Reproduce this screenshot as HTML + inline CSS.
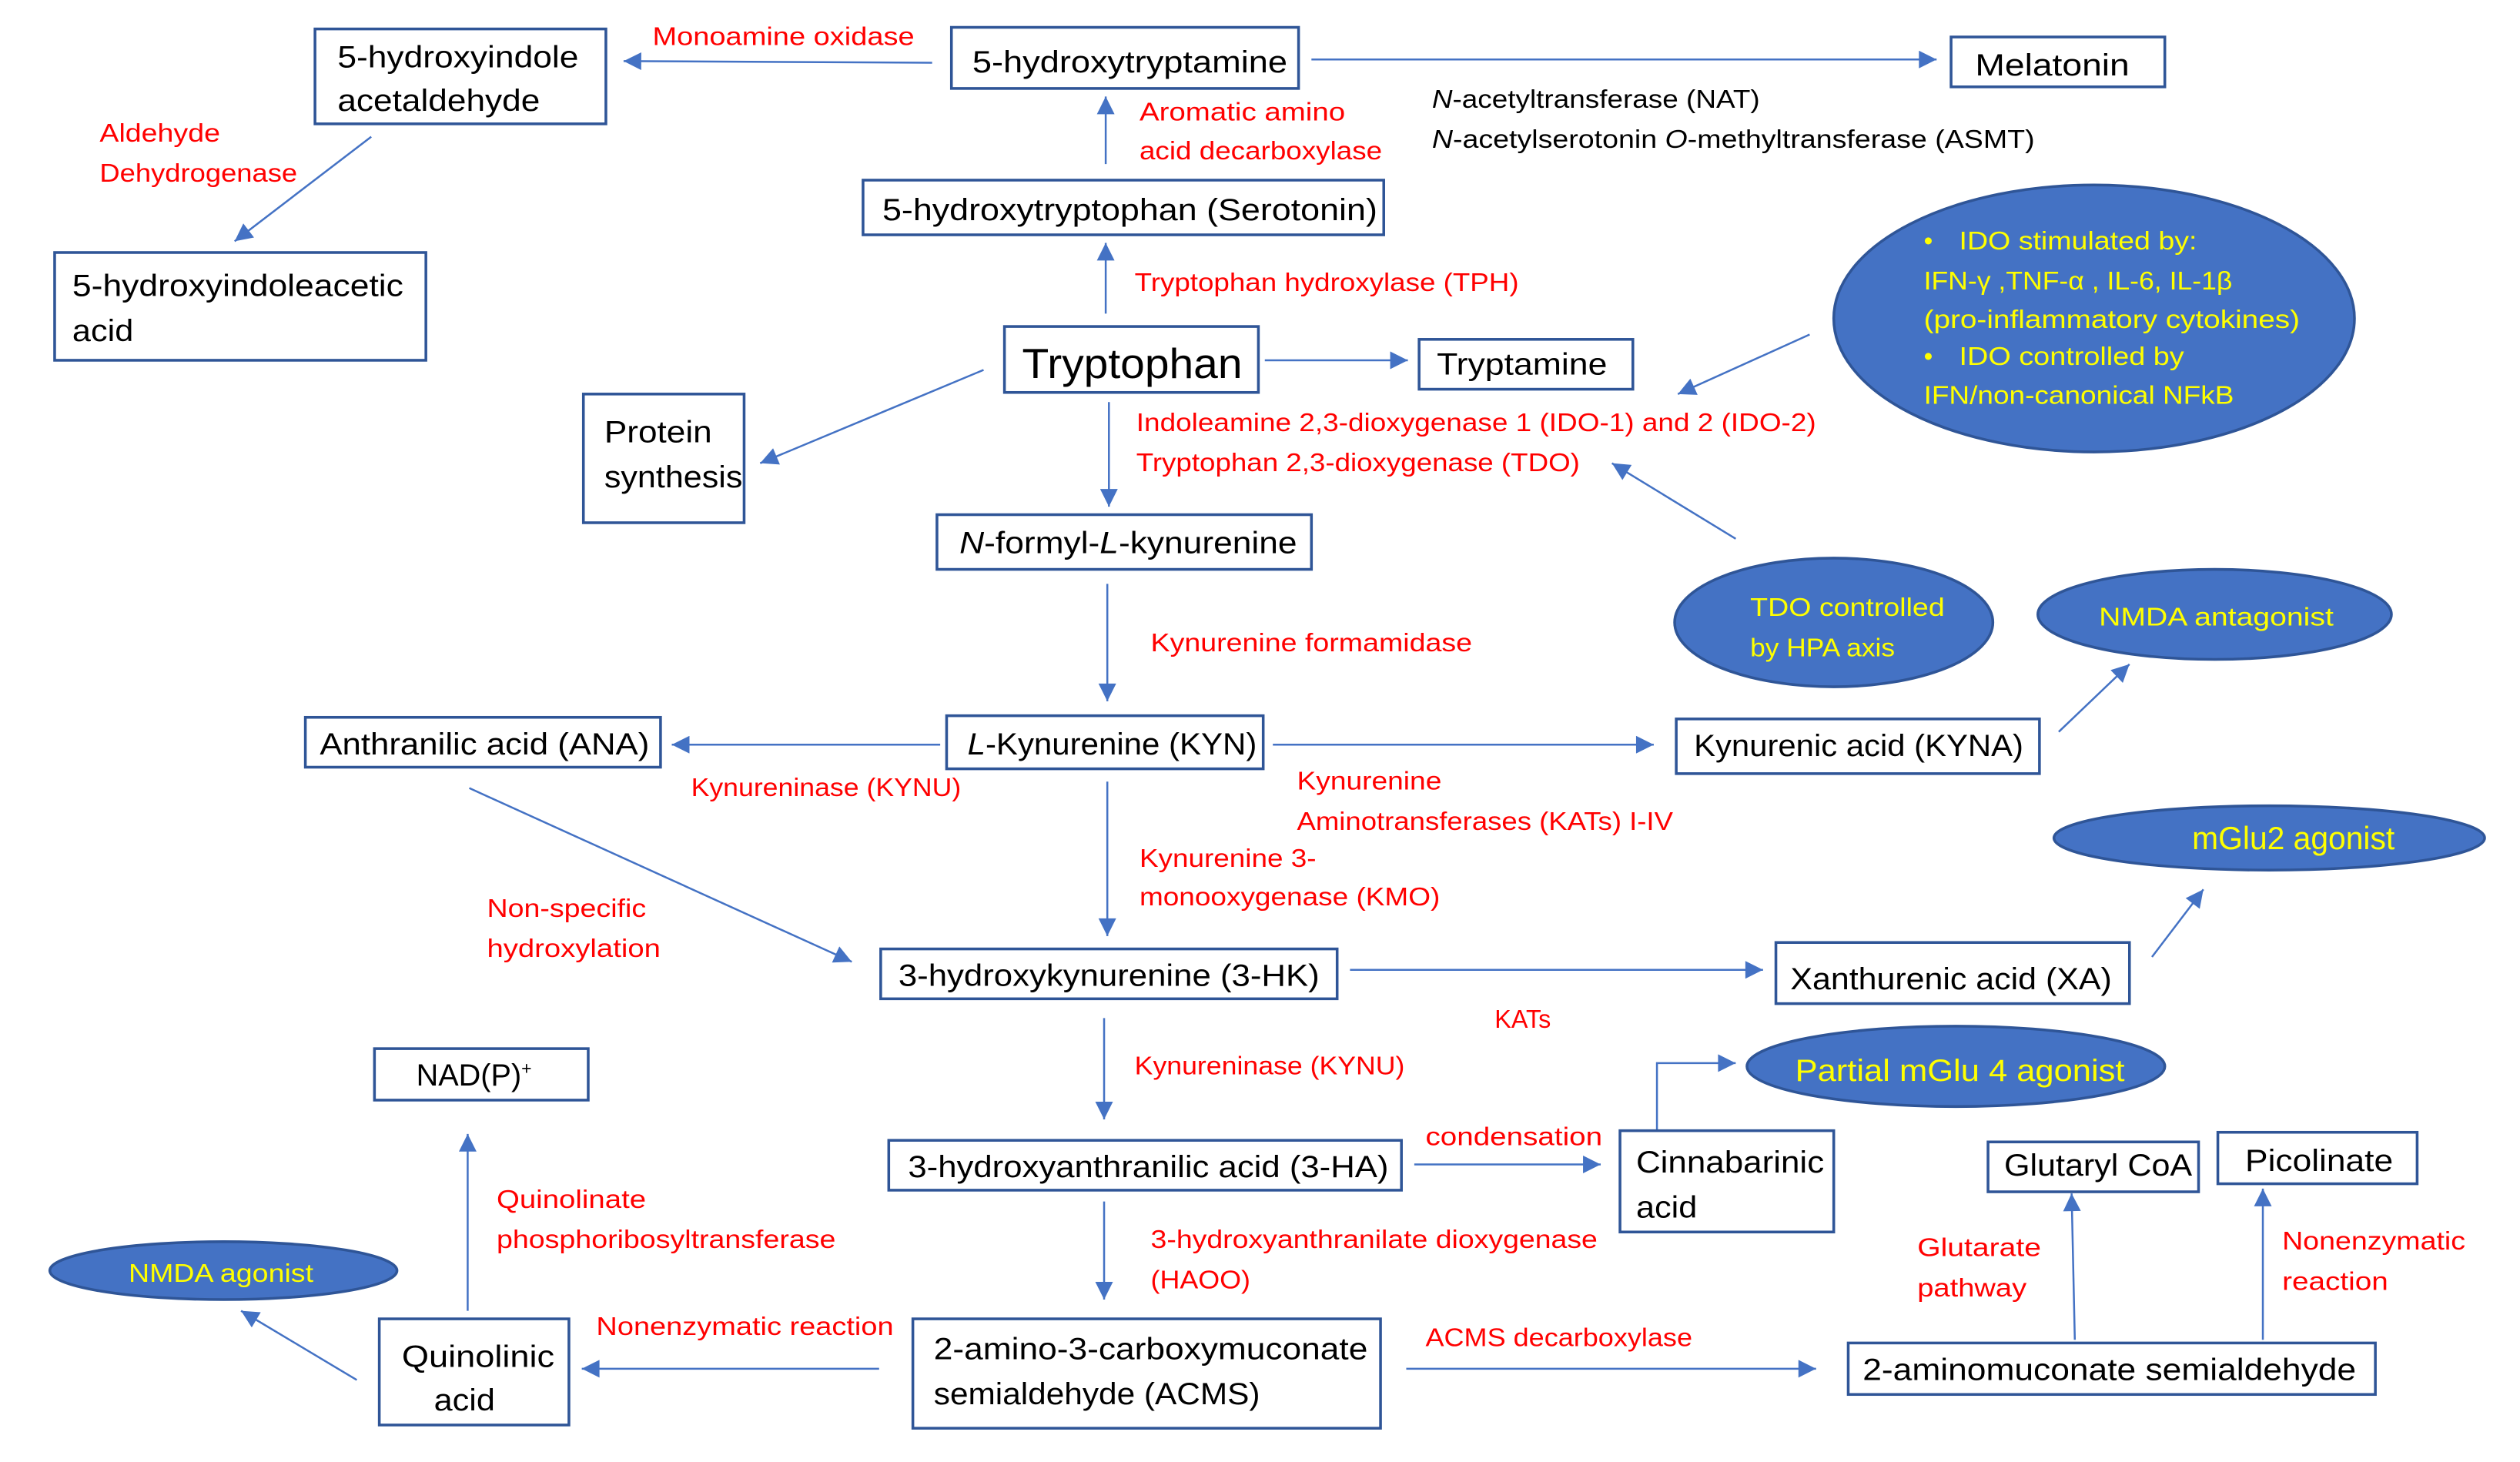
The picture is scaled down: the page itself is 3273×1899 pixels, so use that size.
<!DOCTYPE html>
<html><head><meta charset="utf-8"><style>
html,body{margin:0;padding:0;background:#fff;}
svg{display:block;}
text{font-family:"Liberation Sans",sans-serif;}
.b{fill:#000;font-size:19px;}
.r{fill:#ff0000;font-size:16px;}
.k{fill:#000;font-size:16px;}
.y{fill:#ffff00;font-size:16px;}
.bx{fill:#fff;stroke:#2f5597;stroke-width:1.7;}
.el{fill:#4472c4;stroke:#2f5597;stroke-width:1.7;}
.ln{stroke:#4472c4;stroke-width:1.2;fill:none;}
</style></head><body>
<svg width="3273" height="1899" viewBox="0 0 1568 909" preserveAspectRatio="none" xmlns="http://www.w3.org/2000/svg">
<defs><marker id="a" viewBox="0 0 10 10" refX="10" refY="5" markerWidth="12" markerHeight="11" markerUnits="userSpaceOnUse" orient="auto"><path d="M0,0L10,5L0,10z" fill="#4472c4"/></marker></defs>
<g class="ln" marker-end="url(#a)">
<line x1="580" y1="39" x2="388" y2="38"/>
<line x1="816" y1="37" x2="1205" y2="37"/>
<line x1="231" y1="85" x2="146" y2="150"/>
<line x1="688" y1="102" x2="688" y2="60"/>
<line x1="688" y1="195" x2="688" y2="151"/>
<line x1="787" y1="224" x2="876" y2="224"/>
<line x1="612" y1="230" x2="473" y2="288"/>
<line x1="690" y1="250" x2="690" y2="315"/>
<line x1="1126" y1="208" x2="1044" y2="245"/>
<line x1="1080" y1="335" x2="1003" y2="288"/>
<line x1="689" y1="363" x2="689" y2="436"/>
<line x1="585" y1="463" x2="418" y2="463"/>
<line x1="792" y1="463" x2="1029" y2="463"/>
<line x1="1281" y1="455" x2="1325" y2="413"/>
<line x1="292" y1="490" x2="530" y2="598"/>
<line x1="689" y1="486" x2="689" y2="582"/>
<line x1="840" y1="603" x2="1097" y2="603"/>
<line x1="1339" y1="595" x2="1371" y2="553"/>
<polyline points="1031,703 1031,661 1080,661"/>
<line x1="687" y1="633" x2="687" y2="696"/>
<line x1="880" y1="724" x2="996" y2="724"/>
<line x1="291" y1="815" x2="291" y2="705"/>
<line x1="687" y1="747" x2="687" y2="808"/>
<line x1="222" y1="858" x2="150" y2="815"/>
<line x1="547" y1="851" x2="362" y2="851"/>
<line x1="875" y1="851" x2="1130" y2="851"/>
<line x1="1291" y1="833" x2="1289" y2="742"/>
<line x1="1408" y1="833" x2="1408" y2="739"/>
</g>
<rect class="bx" x="196" y="18" width="181" height="59"/>
<rect class="bx" x="592" y="17" width="216" height="38"/>
<rect class="bx" x="1214" y="23" width="133" height="31"/>
<rect class="bx" x="34" y="157" width="231" height="67"/>
<rect class="bx" x="537" y="112" width="324" height="34"/>
<rect class="bx" x="625" y="203" width="158" height="41"/>
<rect class="bx" x="883" y="211" width="133" height="31"/>
<rect class="bx" x="363" y="245" width="100" height="80"/>
<rect class="bx" x="583" y="320" width="233" height="34"/>
<rect class="bx" x="589" y="445" width="197" height="33"/>
<rect class="bx" x="190" y="446" width="221" height="31"/>
<rect class="bx" x="1043" y="447" width="226" height="34"/>
<rect class="bx" x="548" y="590" width="284" height="31"/>
<rect class="bx" x="1105" y="586" width="220" height="38"/>
<rect class="bx" x="233" y="652" width="133" height="32"/>
<rect class="bx" x="553" y="709" width="319" height="31"/>
<rect class="bx" x="1008" y="703" width="133" height="63"/>
<rect class="bx" x="1237" y="710" width="131" height="31"/>
<rect class="bx" x="1380" y="704" width="124" height="32"/>
<rect class="bx" x="236" y="820" width="118" height="66"/>
<rect class="bx" x="568" y="820" width="291" height="68"/>
<rect class="bx" x="1150" y="835" width="328" height="32"/>
<ellipse class="el" cx="1303" cy="198" rx="162" ry="83"/>
<ellipse class="el" cx="1141" cy="387" rx="99" ry="40"/>
<ellipse class="el" cx="1378" cy="382" rx="110" ry="28"/>
<ellipse class="el" cx="1412" cy="521" rx="134" ry="20"/>
<ellipse class="el" cx="1217" cy="663" rx="130" ry="25"/>
<ellipse class="el" cx="139" cy="790" rx="108" ry="18"/>
<g>
<text class="b" x="210" y="42" textLength="150" lengthAdjust="spacingAndGlyphs">5-hydroxyindole</text>
<text class="b" x="210" y="69" textLength="126" lengthAdjust="spacingAndGlyphs">acetaldehyde</text>
<text class="r" x="406" y="28" textLength="163" lengthAdjust="spacingAndGlyphs">Monoamine oxidase</text>
<text class="b" x="605" y="45" textLength="196" lengthAdjust="spacingAndGlyphs">5-hydroxytryptamine</text>
<text class="b" x="1229" y="47" textLength="96" lengthAdjust="spacingAndGlyphs">Melatonin</text>
<text class="k" x="891" y="67" textLength="204" lengthAdjust="spacingAndGlyphs"><tspan font-style="italic">N</tspan>-acetyltransferase (NAT)</text>
<text class="k" x="891" y="92" textLength="375" lengthAdjust="spacingAndGlyphs"><tspan font-style="italic">N</tspan>-acetylserotonin <tspan font-style="italic">O</tspan>-methyltransferase (ASMT)</text>
<text class="r" x="62" y="88" textLength="75" lengthAdjust="spacingAndGlyphs">Aldehyde</text>
<text class="r" x="62" y="113" textLength="123" lengthAdjust="spacingAndGlyphs">Dehydrogenase</text>
<text class="b" x="45" y="184" textLength="206" lengthAdjust="spacingAndGlyphs">5-hydroxyindoleacetic</text>
<text class="b" x="45" y="212" textLength="38" lengthAdjust="spacingAndGlyphs">acid</text>
<text class="r" x="709" y="75" textLength="128" lengthAdjust="spacingAndGlyphs">Aromatic amino</text>
<text class="r" x="709" y="99" textLength="151" lengthAdjust="spacingAndGlyphs">acid decarboxylase</text>
<text class="b" x="549" y="137" textLength="308" lengthAdjust="spacingAndGlyphs">5-hydroxytryptophan (Serotonin)</text>
<text class="r" x="706" y="181" textLength="239" lengthAdjust="spacingAndGlyphs">Tryptophan hydroxylase (TPH)</text>
<text class="b" x="636" y="235" style="font-size:26px" textLength="137" lengthAdjust="spacingAndGlyphs">Tryptophan</text>
<text class="b" x="894" y="233" textLength="106" lengthAdjust="spacingAndGlyphs">Tryptamine</text>
<text class="b" x="376" y="275" textLength="67" lengthAdjust="spacingAndGlyphs">Protein</text>
<text class="b" x="376" y="303" textLength="86" lengthAdjust="spacingAndGlyphs">synthesis</text>
<text class="r" x="707" y="268" textLength="423" lengthAdjust="spacingAndGlyphs">Indoleamine 2,3-dioxygenase 1 (IDO-1) and 2 (IDO-2)</text>
<text class="r" x="707" y="293" textLength="276" lengthAdjust="spacingAndGlyphs">Tryptophan 2,3-dioxygenase (TDO)</text>
<text class="y" x="1197" y="155">•</text>
<text class="y" x="1219" y="155" textLength="148" lengthAdjust="spacingAndGlyphs">IDO stimulated by:</text>
<text class="y" x="1197" y="180" textLength="192" lengthAdjust="spacingAndGlyphs">IFN-γ ,TNF-α , IL-6, IL-1β</text>
<text class="y" x="1197" y="204" textLength="234" lengthAdjust="spacingAndGlyphs">(pro-inflammatory cytokines)</text>
<text class="y" x="1197" y="227">•</text>
<text class="y" x="1219" y="227" textLength="140" lengthAdjust="spacingAndGlyphs">IDO controlled by</text>
<text class="y" x="1197" y="251" textLength="193" lengthAdjust="spacingAndGlyphs">IFN/non-canonical NFkB</text>
<text class="y" x="1089" y="383" textLength="121" lengthAdjust="spacingAndGlyphs">TDO controlled</text>
<text class="y" x="1089" y="408" textLength="90" lengthAdjust="spacingAndGlyphs">by HPA axis</text>
<text class="y" x="1306" y="389" textLength="146" lengthAdjust="spacingAndGlyphs">NMDA antagonist</text>
<text class="b" x="597" y="344" textLength="210" lengthAdjust="spacingAndGlyphs"><tspan font-style="italic">N</tspan>-formyl-<tspan font-style="italic">L</tspan>-kynurenine</text>
<text class="r" x="716" y="405" textLength="200" lengthAdjust="spacingAndGlyphs">Kynurenine formamidase</text>
<text class="b" x="602" y="469" textLength="180" lengthAdjust="spacingAndGlyphs"><tspan font-style="italic">L</tspan>-Kynurenine (KYN)</text>
<text class="b" x="199" y="469" textLength="205" lengthAdjust="spacingAndGlyphs">Anthranilic acid (ANA)</text>
<text class="r" x="430" y="495" textLength="168" lengthAdjust="spacingAndGlyphs">Kynureninase (KYNU)</text>
<text class="b" x="1054" y="470" textLength="205" lengthAdjust="spacingAndGlyphs">Kynurenic acid (KYNA)</text>
<text class="r" x="807" y="491" textLength="90" lengthAdjust="spacingAndGlyphs">Kynurenine</text>
<text class="r" x="807" y="516" textLength="234" lengthAdjust="spacingAndGlyphs">Aminotransferases (KATs) I-IV</text>
<text class="y" x="1364" y="528" style="font-size:20px" textLength="126" lengthAdjust="spacingAndGlyphs">mGlu2 agonist</text>
<text class="r" x="303" y="570" textLength="99" lengthAdjust="spacingAndGlyphs">Non-specific</text>
<text class="r" x="303" y="595" textLength="108" lengthAdjust="spacingAndGlyphs">hydroxylation</text>
<text class="r" x="709" y="539" textLength="110" lengthAdjust="spacingAndGlyphs">Kynurenine 3-</text>
<text class="r" x="709" y="563" textLength="187" lengthAdjust="spacingAndGlyphs">monooxygenase (KMO)</text>
<text class="b" x="559" y="613" textLength="262" lengthAdjust="spacingAndGlyphs">3-hydroxykynurenine (3-HK)</text>
<text class="b" x="1114" y="615" textLength="200" lengthAdjust="spacingAndGlyphs">Xanthurenic acid (XA)</text>
<text class="r" x="930" y="639" textLength="35" lengthAdjust="spacingAndGlyphs">KATs</text>
<text class="y" x="1117" y="672" style="font-size:19px" textLength="205" lengthAdjust="spacingAndGlyphs">Partial mGlu 4 agonist</text>
<text class="b" x="259" y="675">NAD(P)<tspan dy="-7" style="font-size:11px">+</tspan></text>
<text class="r" x="706" y="668" textLength="168" lengthAdjust="spacingAndGlyphs">Kynureninase (KYNU)</text>
<text class="b" x="565" y="732" textLength="299" lengthAdjust="spacingAndGlyphs">3-hydroxyanthranilic acid (3-HA)</text>
<text class="r" x="887" y="712" textLength="110" lengthAdjust="spacingAndGlyphs">condensation</text>
<text class="b" x="1018" y="729" textLength="117" lengthAdjust="spacingAndGlyphs">Cinnabarinic</text>
<text class="b" x="1018" y="757" textLength="38" lengthAdjust="spacingAndGlyphs">acid</text>
<text class="b" x="1247" y="731" textLength="117" lengthAdjust="spacingAndGlyphs">Glutaryl CoA</text>
<text class="b" x="1397" y="728" textLength="92" lengthAdjust="spacingAndGlyphs">Picolinate</text>
<text class="y" x="80" y="797" textLength="115" lengthAdjust="spacingAndGlyphs">NMDA agonist</text>
<text class="r" x="309" y="751" textLength="93" lengthAdjust="spacingAndGlyphs">Quinolinate</text>
<text class="r" x="309" y="776" textLength="211" lengthAdjust="spacingAndGlyphs">phosphoribosyltransferase</text>
<text class="r" x="716" y="776" textLength="278" lengthAdjust="spacingAndGlyphs">3-hydroxyanthranilate dioxygenase</text>
<text class="r" x="716" y="801" textLength="62" lengthAdjust="spacingAndGlyphs">(HAOO)</text>
<text class="b" x="250" y="850" textLength="95" lengthAdjust="spacingAndGlyphs">Quinolinic</text>
<text class="b" x="270" y="877" textLength="38" lengthAdjust="spacingAndGlyphs">acid</text>
<text class="b" x="581" y="845" textLength="270" lengthAdjust="spacingAndGlyphs">2-amino-3-carboxymuconate</text>
<text class="b" x="581" y="873" textLength="203" lengthAdjust="spacingAndGlyphs">semialdehyde (ACMS)</text>
<text class="r" x="371" y="830" textLength="185" lengthAdjust="spacingAndGlyphs">Nonenzymatic reaction</text>
<text class="r" x="887" y="837" textLength="166" lengthAdjust="spacingAndGlyphs">ACMS decarboxylase</text>
<text class="b" x="1159" y="858" textLength="307" lengthAdjust="spacingAndGlyphs">2-aminomuconate semialdehyde</text>
<text class="r" x="1193" y="781" textLength="77" lengthAdjust="spacingAndGlyphs">Glutarate</text>
<text class="r" x="1193" y="806" textLength="68" lengthAdjust="spacingAndGlyphs">pathway</text>
<text class="r" x="1420" y="777" textLength="114" lengthAdjust="spacingAndGlyphs">Nonenzymatic</text>
<text class="r" x="1420" y="802" textLength="66" lengthAdjust="spacingAndGlyphs">reaction</text>
</g>
</svg>
</body></html>
